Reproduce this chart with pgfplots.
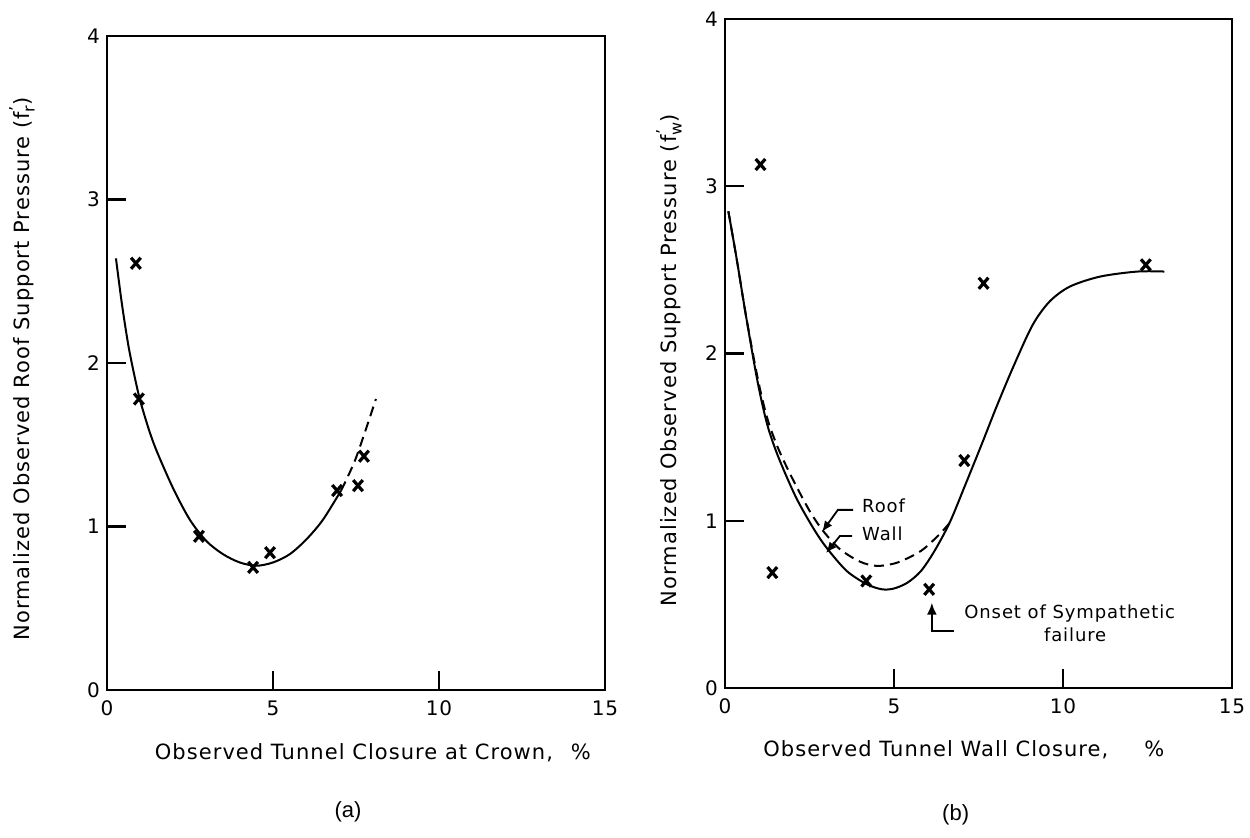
\documentclass[border=0pt]{standalone}
\usepackage{fontspec}
\setmainfont{DejaVu Sans}[LetterSpace=5]
\newfontfamily\capfont{Liberation Sans}
\usepackage{pgfplots}
\pgfplotsset{compat=1.18}
\usetikzlibrary{arrows.meta}

% f with a prime and a subscript, in the text font
\newcommand{\fprime}[1]{f\makebox[0pt][l]{\raisebox{0.75ex}{\footnotesize\kern0.5pt’}}\raisebox{-0.45ex}{\footnotesize #1}}

% points and fitted curves
\pgfplotstableread{
x y
0.87 2.61
0.96 1.78
2.77 0.94
4.40 0.75
4.91 0.84
6.93 1.22
7.56 1.25
7.74 1.43
}\roofpts

\pgfplotstableread{
x y
1.05 3.13
1.40 0.69
4.18 0.64
6.04 0.59
7.08 1.36
7.65 2.42
12.45 2.53
}\wallpts

\pgfplotsset{
  tunnel/.style={
    scale only axis,
    xmin=0, xmax=15, ymin=0, ymax=4,
    xtick={0,5,10,15}, ytick={0,1,2,3,4},
    tick pos=left,
    tick align=inside,
    axis line style={line width=1.1pt},
    major tick style={line width=1.1pt, black},
    major tick length=9.5pt,
    tick label style={font=\fontsize{10}{12}\selectfont},
    xticklabel style={yshift=-2pt},
    /pgf/number format/assume math mode=true,
    label style={font=\fontsize{10.5}{12}\selectfont},
    clip=false,
  },
  pts/.style={only marks, mark=x, mark size=3.4pt,
    mark options={line width=1.6pt, yscale=1.15}},
  fit/.style={line width=1pt, smooth, no marks},
}

\begin{document}
\begin{tikzpicture}
\useasboundingbox (0,0) rectangle (625pt,418.5pt);

% (a) roof
\begin{axis}[tunnel,
  at={(53.5pt,73.5pt)}, anchor=south west,
  width=249pt, height=327pt,
  xlabel={Observed Tunnel Closure at Crown,\hspace{9pt}\%},
  ylabel={Normalized Observed Roof Support Pressure (\fprime{r})},
  xlabel style={at={(axis description cs:0.534,-0.0963)}, anchor=center},
  ylabel style={at={(axis description cs:-0.1707,0.491)}, anchor=center},
]
\addplot[pts] table {\roofpts};
\addplot[fit] coordinates {
 (0.27,2.64) (0.45,2.36) (0.65,2.10) (0.85,1.90) (1.0,1.77) (1.25,1.60)
 (1.5,1.46) (2.0,1.23) (2.5,1.04) (3.0,0.91) (3.5,0.83) (4.0,0.78)
 (4.5,0.76) (5.0,0.78) (5.5,0.83) (6.0,0.92) (6.5,1.04) (7.05,1.22)};
\addplot[fit, dash pattern=on 5pt off 3pt] coordinates {
 (7.05,1.22) (7.5,1.42) (8.1,1.78)};
\node[font=\capfont\fontsize{11}{13}\selectfont] at (axis description cs:0.484,-0.1865) {(a)};
\end{axis}

% (b) wall
\begin{axis}[tunnel,
  at={(362.5pt,74.5pt)}, anchor=south west,
  width=253.5pt, height=334.5pt,
  xlabel={Observed Tunnel Wall Closure,\hspace{18pt}\%},
  ylabel={Normalized Observed Support Pressure (\fprime{w})},
  xlabel style={at={(axis description cs:0.471,-0.0927)}, anchor=center},
  ylabel style={at={(axis description cs:-0.1105,0.490)}, anchor=center},
]
\addplot[pts] table {\wallpts};
% wall curve
\addplot[fit] coordinates {
 (0.1,2.85) (0.35,2.56) (0.6,2.25) (0.9,1.9) (1.1,1.7) (1.3,1.54) (1.6,1.37)
 (2.1,1.14) (2.6,0.96) (3.0,0.84) (3.6,0.70) (4.2,0.62) (4.65,0.59)
 (5.0,0.595) (5.4,0.63) (5.8,0.70) (6.2,0.82) (6.65,0.99) (7.1,1.21)
 (7.6,1.46) (8.05,1.69) (8.55,1.93) (9.1,2.17) (9.6,2.31) (10.2,2.40)
 (11.1,2.46) (12.2,2.49) (13.0,2.49)};
% roof curve
\addplot[fit, dash pattern=on 5pt off 3pt] coordinates {
 (0.1,2.85) (0.35,2.56) (0.6,2.25) (0.9,1.92) (1.1,1.73) (1.3,1.58)
 (1.6,1.42) (2.0,1.25) (2.5,1.06) (2.9,0.94) (3.4,0.83) (4.0,0.755)
 (4.5,0.73) (5.1,0.75) (5.8,0.82) (6.35,0.92) (6.7,1.0)};
\draw[line width=0.9pt, -{Latex[length=5.5pt,width=4.5pt]}]
  (axis cs:3.79,1.065) -- (axis cs:3.34,1.065) -- (axis cs:2.87,0.933);
\draw[line width=0.9pt, -{Latex[length=5.5pt,width=4.5pt]}]
  (axis cs:3.76,0.909) -- (axis cs:3.40,0.909) -- (axis cs:2.99,0.807);
\node[anchor=west, font=\fontsize{9}{11}\selectfont] at (axis cs:3.85,1.089) {Roof};
\node[anchor=west, font=\fontsize{9}{11}\selectfont] at (axis cs:3.85,0.921) {Wall};
\draw[line width=1pt, -{Latex[length=6pt,width=5pt]}]
  (axis cs:6.78,0.341) -- (axis cs:6.12,0.341) -- (axis cs:6.12,0.51);
\node[font=\fontsize{9}{11}\selectfont] at (axis cs:10.2,0.443) {Onset of Sympathetic};
\node[font=\fontsize{9}{11}\selectfont] at (axis cs:10.36,0.317) {failure};
\node[font=\capfont\fontsize{11}{13}\selectfont] at (axis description cs:0.455,-0.1898) {(b)};
\end{axis}
\end{tikzpicture}
\end{document}
